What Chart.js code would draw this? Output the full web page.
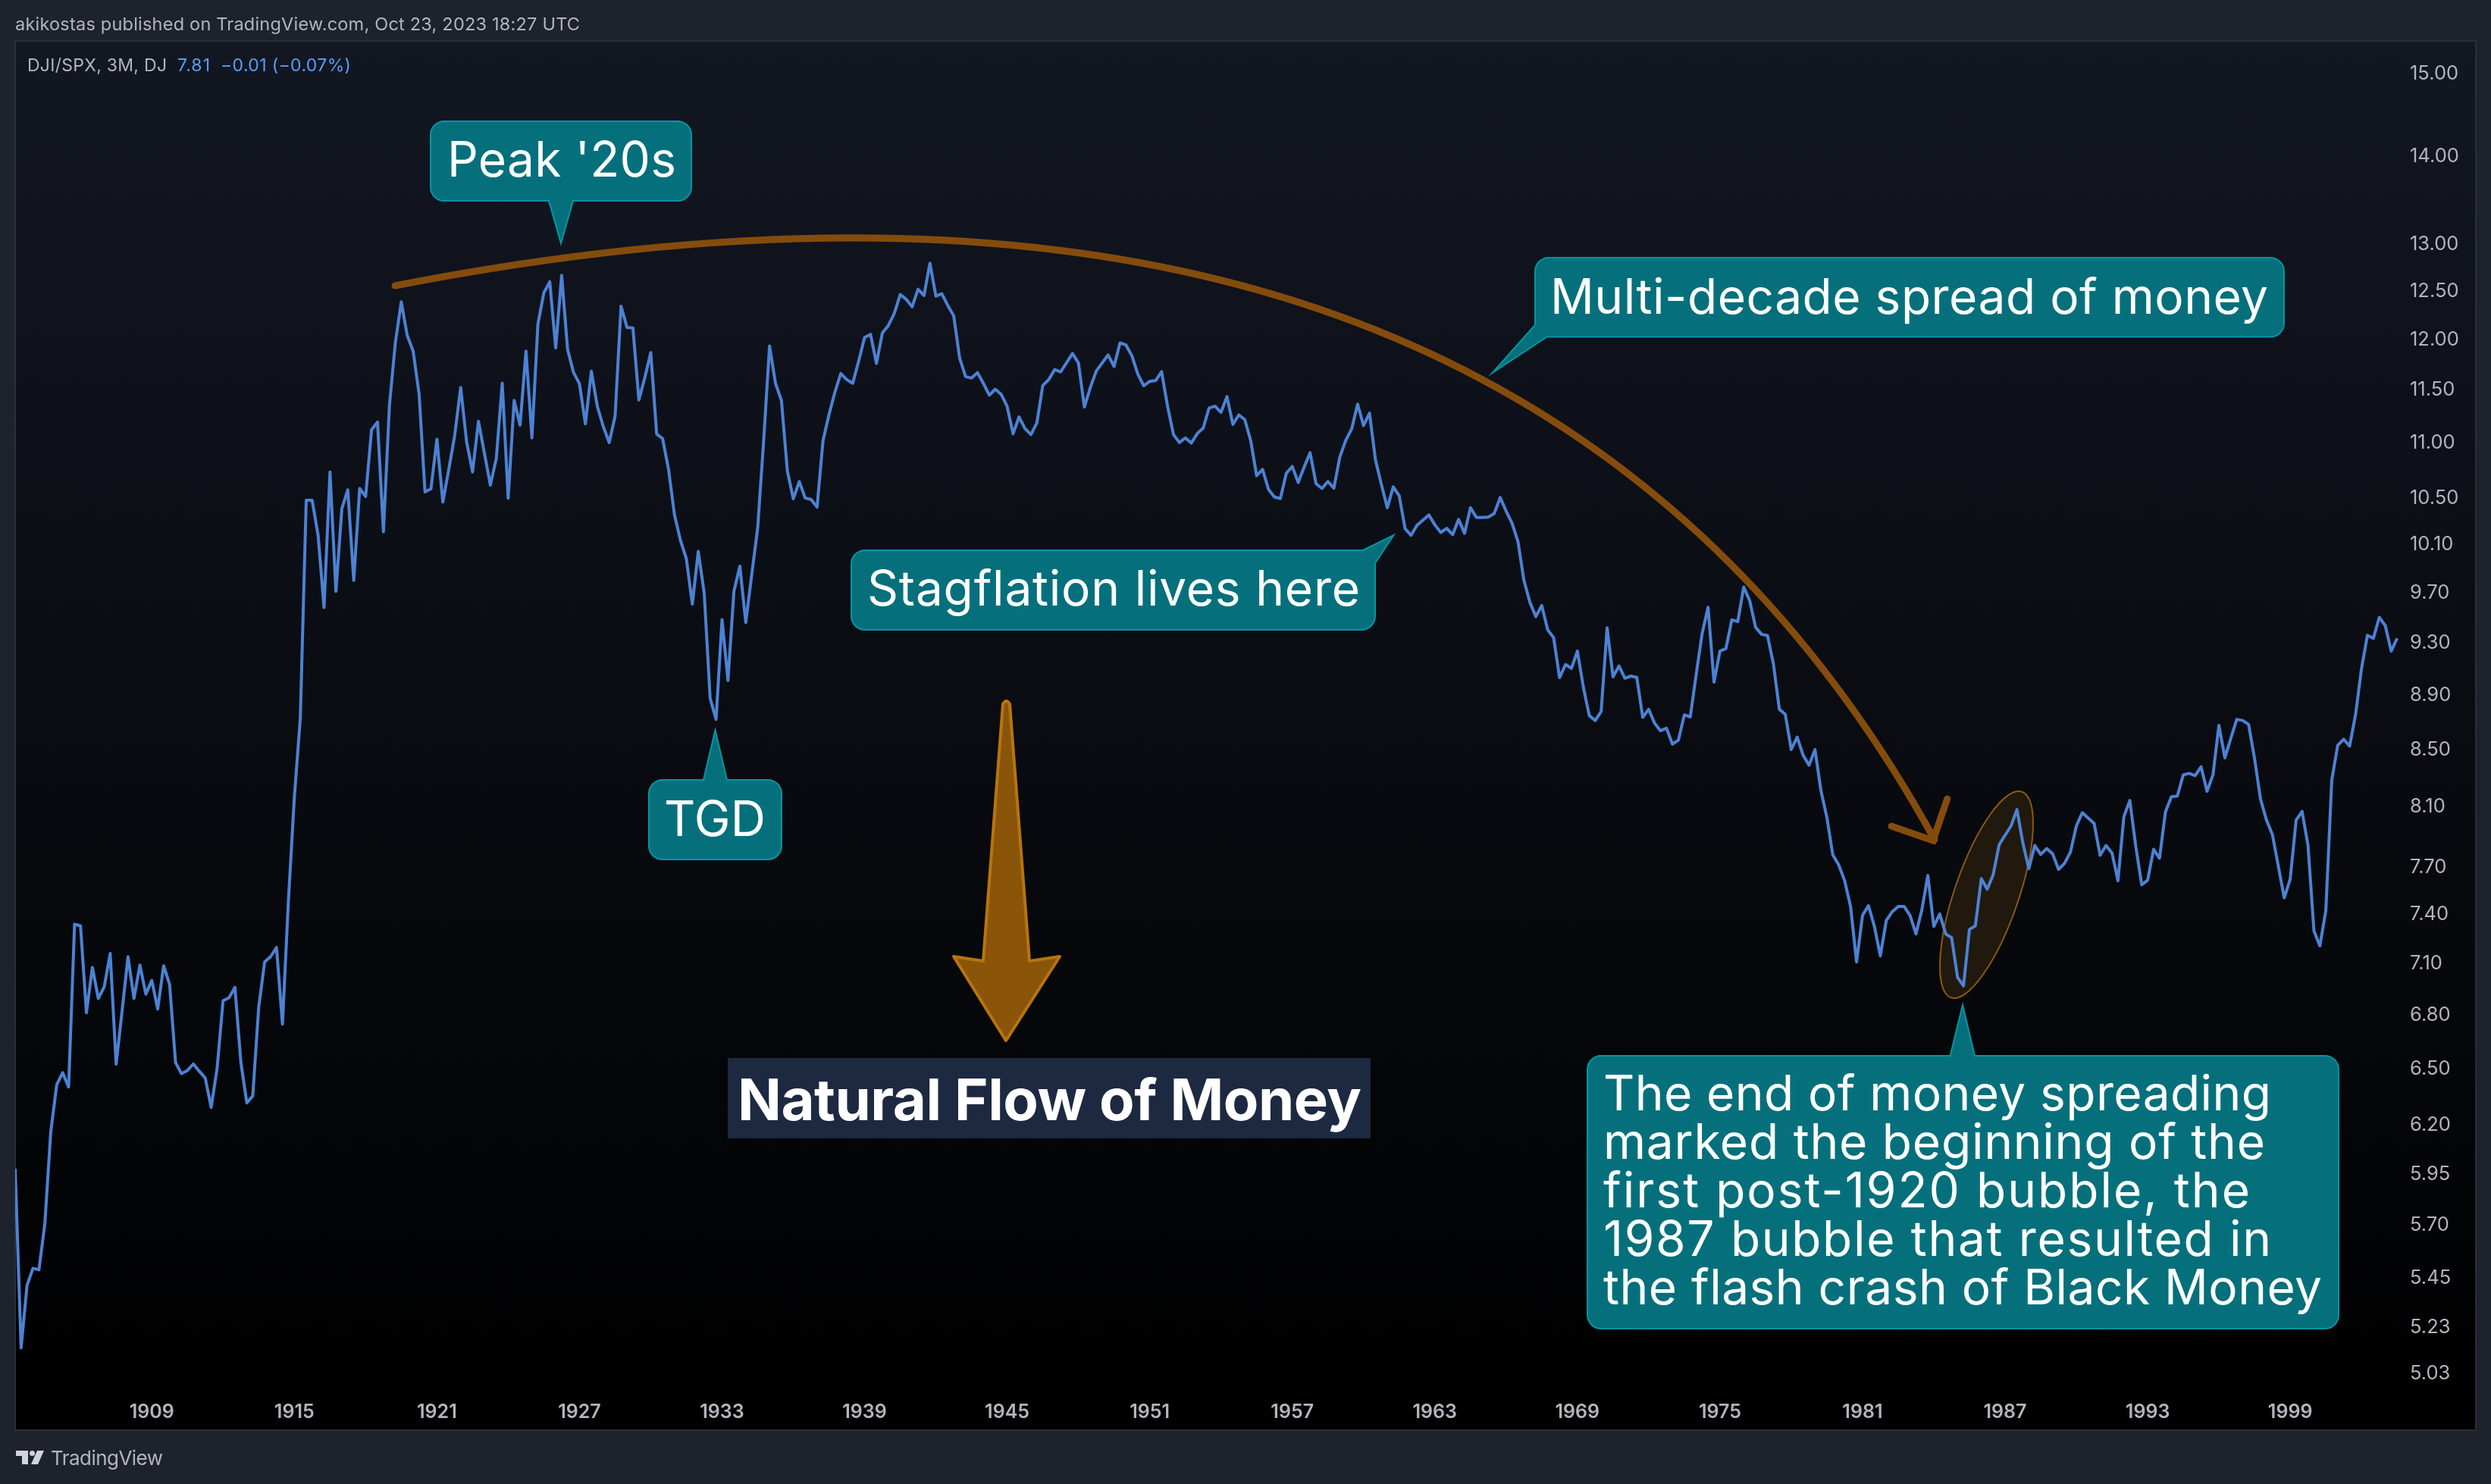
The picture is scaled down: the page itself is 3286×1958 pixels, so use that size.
<!DOCTYPE html>
<html><head><meta charset="utf-8">
<style>html,body{margin:0;padding:0;background:#1e222d}canvas{display:block}</style>
<script src="https://cdn.jsdelivr.net/npm/chart.js@4"></script>
</head><body>
<canvas id="c" width="3286" height="1958" style="width:3286px;height:1958px"></canvas>
<script>
const firstQuarter = 1903.25;
const dowSpxRatio = [
5.968,5.134,5.411,5.489,5.482,5.699,6.159,6.405,6.470,6.393,
7.330,7.321,6.805,7.069,6.887,6.955,7.152,6.517,6.814,7.133,
6.887,7.083,6.912,6.992,6.826,7.079,6.969,6.526,6.465,6.482,
6.518,6.478,6.441,6.284,6.494,6.874,6.891,6.951,6.526,6.308,
6.345,6.835,7.101,7.133,7.188,6.740,7.476,8.155,8.714,10.469,
10.469,10.165,9.567,10.722,9.697,10.397,10.561,9.787,10.574,10.502,
11.109,11.181,10.196,11.331,11.950,12.370,12.026,11.868,11.451,10.543,
10.571,11.021,10.453,10.744,11.057,11.510,10.997,10.722,11.188,10.890,
10.603,10.844,11.553,10.487,11.386,11.152,11.868,11.033,12.140,12.464,
12.581,11.899,12.649,11.886,11.657,11.546,11.164,11.670,11.331,11.141,
10.990,11.236,12.325,12.107,12.102,11.391,11.607,11.853,11.069,11.026,
10.744,10.341,10.123,9.966,9.594,10.029,9.684,8.863,8.708,9.470,
8.997,9.697,9.905,9.447,9.835,10.227,11.000,11.920,11.551,11.386,
10.730,10.482,10.636,10.489,10.476,10.409,11.007,11.250,11.465,11.647,
11.587,11.551,11.769,12.005,12.036,11.746,12.051,12.127,12.249,12.446,
12.397,12.318,12.502,12.437,12.778,12.430,12.454,12.333,12.226,11.800,
11.617,11.602,11.655,11.551,11.437,11.494,11.444,11.329,11.071,11.229,
11.121,11.064,11.172,11.530,11.587,11.685,11.662,11.753,11.845,11.751,
11.323,11.510,11.670,11.751,11.830,11.716,11.950,11.929,11.822,11.640,
11.527,11.570,11.578,11.665,11.331,11.064,10.990,11.033,10.985,11.073,
11.124,11.314,11.331,11.272,11.422,11.159,11.248,11.205,11.009,10.688,
10.744,10.565,10.498,10.485,10.710,10.771,10.627,10.766,10.897,10.616,
10.574,10.636,10.576,10.856,11.009,11.117,11.351,11.148,11.265,10.833,
10.610,10.404,10.588,10.509,10.222,10.165,10.252,10.296,10.341,10.256,
10.190,10.225,10.171,10.303,10.182,10.404,10.319,10.319,10.323,10.353,
10.494,10.375,10.269,10.112,9.787,9.609,9.494,9.583,9.389,9.327,
9.019,9.119,9.090,9.222,8.948,8.736,8.699,8.767,9.405,9.025,
9.108,9.015,9.031,9.021,8.723,8.782,8.680,8.625,8.643,8.529,
8.557,8.741,8.726,9.044,9.360,9.569,8.985,9.222,9.242,9.468,
9.454,9.733,9.623,9.409,9.354,9.344,9.123,8.782,8.745,8.490,
8.579,8.449,8.379,8.490,8.202,8.019,7.770,7.705,7.603,7.437,
7.101,7.385,7.446,7.317,7.138,7.353,7.408,7.441,7.441,7.385,
7.271,7.422,7.637,7.317,7.394,7.271,7.248,7.010,6.960,7.298,
7.321,7.617,7.549,7.642,7.837,7.900,7.962,8.072,7.847,7.681,
7.832,7.773,7.812,7.778,7.676,7.715,7.788,7.962,8.051,8.014,
7.978,7.768,7.832,7.783,7.603,8.025,8.134,7.827,7.578,7.607,
7.807,7.749,8.056,8.160,8.165,8.311,8.322,8.306,8.368,8.197,
8.311,8.664,8.431,8.570,8.708,8.700,8.671,8.426,8.144,8.001,
7.905,7.697,7.495,7.614,8.001,8.060,7.832,7.289,7.198,7.415,
8.275,8.520,8.564,8.514,8.741,9.086,9.346,9.322,9.488,9.423,9.222,9.322
];
const yearTicks = [1909,1915,1921,1927,1933,1939,1945,1951,1957,1963,1969,1975,1981,1987,1993,1999];
const priceTicks = [15,14,13,12.5,12,11.5,11,10.5,10.1,9.7,9.3,8.9,8.5,8.1,7.7,7.4,7.1,6.8,6.5,6.2,5.95,5.7,5.45,5.23,5.03];
const headerText = "akikostas published on TradingView.com, Oct 23, 2023 18:27 UTC";
const seriesName = "DJI/SPX, 3M, DJ";
const lastValue = "7.81";
const lastChange = "\u22120.01 (\u22120.07%)";
const FONT = 'Inter, "Noto Sans", sans-serif';

const points = dowSpxRatio.map((v,i)=>({x:firstQuarter+i/4,y:v}));

function text(ctx,str,x,y,size,weight,color,targetWidth,align){
  ctx.save();
  ctx.font = `${weight} ${size}px ${FONT}`;
  ctx.fillStyle = color;
  ctx.textBaseline = 'middle';
  ctx.textAlign = align||'left';
  ctx.letterSpacing = '0px';
  if(targetWidth){
    const w = ctx.measureText(str).width;
    ctx.letterSpacing = ((targetWidth-w)/(str.length-1)).toFixed(3)+'px';
  }
  ctx.fillText(str,x,y);
  ctx.restore();
}
function callout(ctx,verts){
  const n=verts.length, a=verts[n-1], b=verts[0];
  ctx.beginPath();
  ctx.moveTo((a[0]+b[0])/2,(a[1]+b[1])/2);
  for(let i=0;i<n;i++){
    const p=verts[i], q=verts[(i+1)%n];
    if(p[2]) ctx.arcTo(p[0],p[1],q[0],q[1],p[2]); else ctx.lineTo(p[0],p[1]);
  }
  ctx.closePath();
  ctx.fillStyle='#05707c';
  ctx.fill();
  ctx.lineWidth=2;
  ctx.strokeStyle='#0695a3';
  ctx.stroke();
}

const backdrop = {
  id:'backdrop',
  beforeDraw(chart){
    const ctx=chart.ctx;
    ctx.save();
    ctx.fillStyle='#1e222d';
    ctx.fillRect(0,0,3286,1958);
    const g=ctx.createLinearGradient(0,54,0,1887);
    g.addColorStop(0,'#131722');
    g.addColorStop(1,'#000000');
    ctx.fillStyle=g;
    ctx.fillRect(20,54,3246,1833);
    ctx.strokeStyle='#2a2e39';
    ctx.lineWidth=2;
    ctx.strokeRect(20,54,3246,1833);
    ctx.restore();
    text(ctx,headerText,20,33,23.5,400,'#b2b5be',745);
    text(ctx,seriesName,36,87,23,400,'#b2b5be',184);
    text(ctx,lastValue,234,87,23,400,'#5b9cf6',43);
    text(ctx,lastChange,291,87,23,400,'#5b9cf6',172);
    // footer logo and wordmark
    ctx.save();
    ctx.fillStyle='#d1d4dc';
    ctx.beginPath();
    ctx.rect(21,1914,16,7);ctx.rect(29,1921,8,11);
    ctx.moveTo(49,1914);ctx.lineTo(58,1914);ctx.lineTo(50,1932);ctx.lineTo(41,1932);ctx.closePath();
    ctx.moveTo(46,1917.5);ctx.arc(42.5,1917.5,3.5,0,Math.PI*2);
    ctx.fill();
    ctx.restore();
    text(ctx,'TradingView',67,1925,26,400,'#b2b5be',148);
  },
  beforeDatasetsDraw(chart){
    const ctx=chart.ctx;
    ctx.save();
    ctx.beginPath();
    ctx.ellipse(2620.5,1180.5,143.6,42.2,109*Math.PI/180,0,Math.PI*2);
    ctx.fillStyle='#21190d';
    ctx.fill();
    ctx.lineWidth=2;
    ctx.strokeStyle='#8a5a12';
    ctx.stroke();
    ctx.restore();
  },
  afterDatasetsDraw(chart){
    const ctx=chart.ctx;
    ctx.save();
    // long curved arrow
    ctx.strokeStyle='#844c0c';
    ctx.lineWidth=9;
    ctx.lineCap='round';
    ctx.beginPath();
    ctx.moveTo(521,377);
    ctx.quadraticCurveTo(1992,90,2552,1108);
    ctx.stroke();
    ctx.lineJoin='miter';
    ctx.beginPath();
    ctx.moveTo(2495,1090);ctx.lineTo(2550,1109);ctx.lineTo(2568.7,1054);
    ctx.stroke();
    // tapered down arrow
    ctx.beginPath();
    ctx.moveTo(1323,929);ctx.quadraticCurveTo(1327.5,921,1332,929);
    ctx.lineTo(1358,1268);ctx.lineTo(1398,1262);ctx.lineTo(1327,1373);
    ctx.lineTo(1258,1262);ctx.lineTo(1297,1268);ctx.closePath();
    ctx.fillStyle='#8a5509';
    ctx.fill();
    ctx.lineJoin='round';
    ctx.lineWidth=4;
    ctx.strokeStyle='#b8740f';
    ctx.stroke();
    ctx.restore();
    // callouts
    const r=18;
    callout(ctx,[[568,160,r],[912,160,r],[912,265,r],[756,265],[740,321],[724,265],[568,265,r]]);
    text(ctx,"Peak '20s",590,214,64,400,'#ffffff',302);
    callout(ctx,[[856,1029,r],[928,1029],[943.5,963],[959,1029],[1031,1029,r],[1031,1134,r],[856,1134,r]]);
    text(ctx,"TGD",876,1084,64,400,'#ffffff',134);
    callout(ctx,[[1123,726,r],[1798,726],[1838.5,706],[1814,743],[1814,831,r],[1123,831,r]]);
    text(ctx,"Stagflation lives here",1144,780,64,400,'#ffffff',650);
    callout(ctx,[[2025,340,r],[3013,340,r],[3013,444.5,r],[2040.7,444.5],[1968.6,492],[2025,428.6]]);
    text(ctx,"Multi-decade spread of money",2045,395,64,400,'#ffffff',947);
    callout(ctx,[[2094,1393,r],[2572.6,1393],[2589,1326],[2605,1393],[3085,1393,r],[3085,1753,r],[2094,1753,r]]);
    const lines=[["The end of money spreading",881],["marked the beginning of the",873],["first post-1920 bubble, the",853],["1987 bubble that resulted in",881],["the flash crash of Black Money",948]];
    lines.forEach((l,i)=>text(ctx,l[0],2115,1446+i*63.9,64,400,'#ffffff',l[1]));
    // label
    ctx.save();
    ctx.fillStyle='#1c2940';
    ctx.fillRect(960,1396,848,106);
    ctx.restore();
    text(ctx,"Natural Flow of Money",973,1455,76,700,'#ffffff',823);
  }
};

new Chart(document.getElementById('c'),{
  type:'line',
  data:{datasets:[{label:seriesName,data:points,borderColor:'#4c82d4',borderWidth:4,borderJoinStyle:'round',pointRadius:0,tension:0,fill:false}]},
  plugins:[backdrop],
  options:{
    responsive:false,
    devicePixelRatio:1,
    animation:false,
    parsing:true,
    layout:{padding:{left:20,top:54,right:20,bottom:71}},
    plugins:{legend:{display:false},tooltip:{enabled:false},title:{display:false}},
    scales:{
      x:{
        type:'linear',
        min:firstQuarter,
        max:2003.75,
        grid:{display:false,drawTicks:false},
        border:{display:false},
        afterBuildTicks(s){s.ticks=yearTicks.map(v=>({value:v}));},
        afterFit(s){s.height=52;},
        ticks:{autoSkip:false,maxRotation:0,padding:13,color:'#b2b5be',font:{family:FONT,size:25,weight:'600'},callback:v=>String(v)}
      },
      y:{
        type:'logarithmic',
        position:'right',
        min:4.952,
        max:15.404,
        grid:{display:false,drawTicks:false},
        border:{display:false},
        afterBuildTicks(s){s.ticks=priceTicks.map(v=>({value:v}));},
        afterFit(s){s.width=96;},
        ticks:{autoSkip:false,padding:9,labelOffset:2,crossAlign:'near',color:'#b2b5be',font:{family:FONT,size:25.5,weight:'400'},callback:v=>Number(v).toFixed(2)}
      }
    }
  }
});
</script>
</body></html>
